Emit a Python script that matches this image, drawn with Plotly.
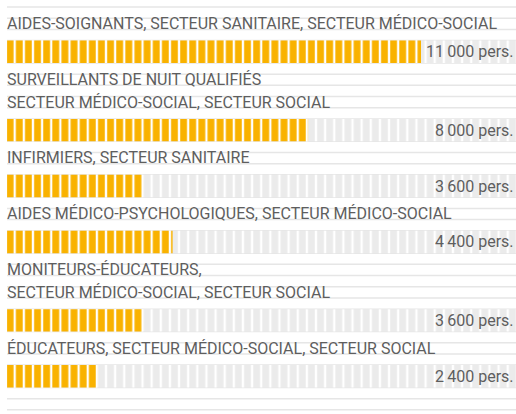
import plotly.graph_objects as go

# Data
labels = [
    ["AIDES-SOIGNANTS, SECTEUR SANITAIRE, SECTEUR MÉDICO-SOCIAL"],
    ["SURVEILLANTS DE NUIT QUALIFIÉS", "SECTEUR MÉDICO-SOCIAL, SECTEUR SOCIAL"],
    ["INFIRMIERS, SECTEUR SANITAIRE"],
    ["AIDES MÉDICO-PSYCHOLOGIQUES, SECTEUR MÉDICO-SOCIAL"],
    ["MONITEURS-ÉDUCATEURS,", "SECTEUR MÉDICO-SOCIAL, SECTEUR SOCIAL"],
    ["ÉDUCATEURS, SECTEUR MÉDICO-SOCIAL, SECTEUR SOCIAL"],
]
values = [11000, 8000, 3600, 4400, 3600, 2400]
unit = "pers."

# Styling / layout constants
ORANGE = "#F9B200"
TRACK = "#EBEBEB"
RULE = "#E6E6E6"
TEXT = "#5E5E5E"
FONT = "Roboto"

W, H = 516, 414
PX_PER = (421 - 7) / 11000      # pixels per person
BAR_X0 = 7                       # pixel where 0 sits
PLOT_L = 1                       # plot area left edge (aligns the segment pattern)
LINE_GAP = 11.19                 # ruled-line spacing
LINE_TOP = 7
N_LINES = 37

x_min = -(BAR_X0 - PLOT_L) / PX_PER
x_max = (W - BAR_X0) / PX_PER
y_top = -LINE_TOP / LINE_GAP
y_bot = (H - LINE_TOP) / LINE_GAP

# Row positions in ruled-line units
centers, baselines = [], []
k = 0
for lines in labels:
    n = len(lines)
    top = k + 2 * n + 1
    baselines.append([top - 1 - 2 * (n - 1 - i) for i in range(n)])
    centers.append(top + 1)
    k = top + 2

seg = 9.13
pattern = dict(shape="|", fillmode="overlay", fgcolor="white", fgopacity=1,
               size=seg, solidity=0.25)

fig = go.Figure()

# Grey track behind each bar
fig.add_trace(go.Bar(
    x=[x_max] * len(values), y=centers, orientation="h", width=2,
    marker=dict(color=TRACK, line_width=0, pattern=pattern),
    hoverinfo="skip", showlegend=False
))

# Value bars
fig.add_trace(go.Bar(
    x=values, y=centers, orientation="h", width=2,
    marker=dict(color=ORANGE, line_width=0, pattern=pattern),
    hovertemplate="%{x}<extra></extra>", showlegend=False
))

# Ruled background lines
shapes = [dict(type="line", xref="x", yref="y", x0=0, x1=x_max, y0=i, y1=i,
               line=dict(color=RULE, width=1.5), layer="below")
          for i in range(N_LINES)]

annotations = []
for lines, bls, c, v in zip(labels, baselines, centers, values):
    for txt, b in zip(lines, bls):
        annotations.append(dict(
            x=0, y=b - 0.51, xref="x", yref="y", text=txt, showarrow=False,
            xanchor="left", yanchor="middle", xshift=-2,
            font=dict(family=FONT, size=16, color=TEXT)
        ))
    num = f"{v:,}".replace(",", "\u2009")
    annotations.append(dict(
        x=1, y=c, xref="paper", yref="y", text=f"{num} {unit}", showarrow=False,
        xanchor="right", yanchor="middle",
        font=dict(family=FONT, size=16, color=TEXT)
    ))

fig.update_layout(
    width=W, height=H,
    margin=dict(l=PLOT_L, r=0, t=0, b=0),
    plot_bgcolor="white", paper_bgcolor="white",
    barmode="overlay",
    xaxis=dict(range=[x_min, x_max], visible=False, fixedrange=True),
    yaxis=dict(range=[y_bot, y_top], visible=False, fixedrange=True),
    shapes=shapes, annotations=annotations,
)

# Page body has an 8px default margin; remove it so the figure fills the window
fig.write_html("out.html", config={"displayModeBar": False},
               post_script="document.body.style.margin='0';document.body.style.overflow='hidden';")
